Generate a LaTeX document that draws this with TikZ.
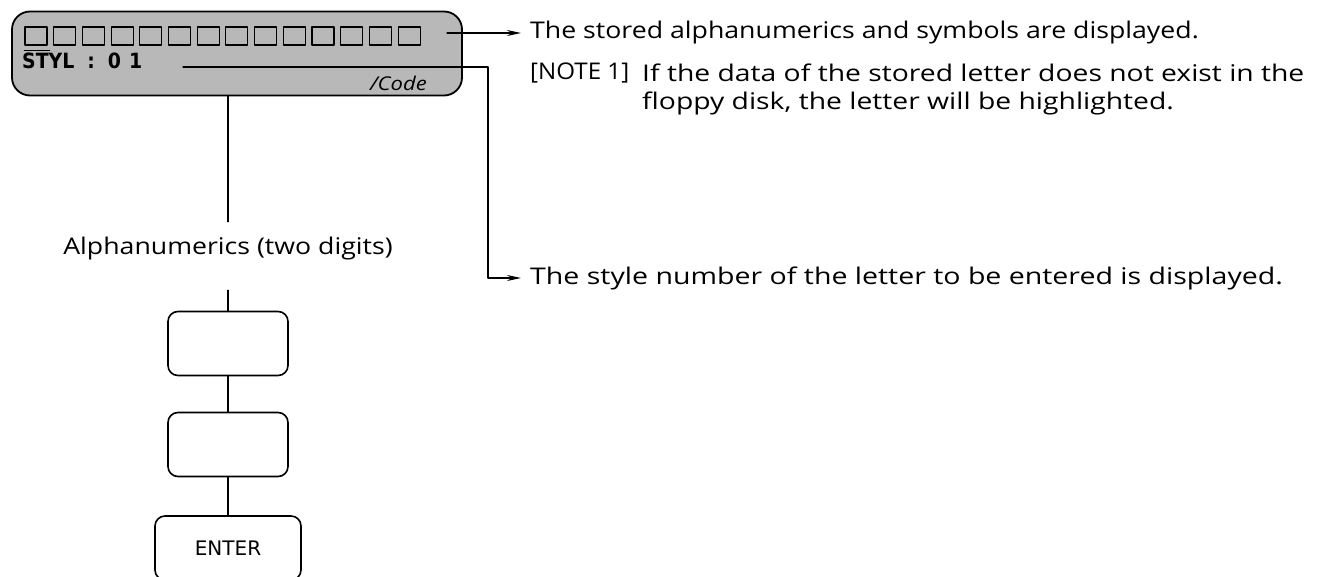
\documentclass[tikz,border=0pt]{standalone}
\usepackage{fontspec}
\usepackage{graphicx}
\setmainfont{Open Sans}
\newfontfamily\lcdfont{DejaVu Sans Condensed}
\newfontfamily\keyfont{DejaVu Sans}
\usetikzlibrary{positioning, arrows.meta}
\newcommand\widetext[2][1.16]{\scalebox{#1}[1]{#2}}
\tikzset{
    keybox/.style={draw, line width=1.6pt, rounded corners=10pt,
        minimum width=120pt, minimum height=64pt, font=\keyfont\fontsize{20}{22}\selectfont},
    note/.style={anchor=west, inner sep=0pt, font=\fontsize{23}{30}\selectfont},
    cell/.style={draw, line width=1.1pt, minimum width=22pt, minimum height=18pt, inner sep=0pt},
    pointer/.style={line width=1.3pt, shorten >=9pt, -{Stealth[length=14pt,width=6pt]}},
}

\begin{document}
\begin{tikzpicture}[x=1pt, y=-1pt, line cap=round, line join=round]
    \useasboundingbox (0,0) rectangle (1323,577);
    % display
    \node[draw, line width=1.8pt, rounded corners=18pt, fill=black!28,
        minimum width=450pt, minimum height=84pt] (lcd) at (237,53.5) {};
    \foreach \i in {0,...,13}
        \node[cell] (c\i) at (36+28.7*\i,36) {};
    \draw[line width=1.6pt] ([yshift=-5pt]c0.south west) -- ++(25,0);
    \node[font=\lcdfont\bfseries\fontsize{21}{22}\selectfont, anchor=west, inner sep=0pt]
        (styl) at (22,61) {STYL\hspace{13pt}:\hspace{13pt}0\hspace{8pt}1};
    \node[font=\itshape\fontsize{19}{20}\selectfont, anchor=east, inner sep=0pt]
        (code) at (427,83) {\widetext{/Code}};
    % notes
    \node[note] (stored) at (530,33) {\widetext{The stored alphanumerics and symbols are displayed.}};
    \node[note] (notehead) at (530,73) {\widetext[1.05]{[NOTE 1]}};
    \node[note] (notebody) at (642,73) {\widetext[1.23]{If the data of the stored letter does not exist in the}};
    \node[note] (notebody2) at (642,103) {\widetext[1.23]{floppy disk, the letter will be highlighted.}};
    \node[note] (stylenum) at (530,278) {\widetext[1.24]{The style number of the letter to be entered is displayed.}};
    % keys
    \node[font=\fontsize{23}{26}\selectfont, minimum height=54pt, inner sep=0pt]
        (alnum) at (228,249) {\widetext{Alphanumerics (two digits)}};
    \node[keybox] (key1) at (228,343.5) {};
    \node[keybox] (key2) at (228,444.5) {};
    \node[keybox, minimum width=146pt] (enter) at (228,548) {ENTER};
    % connectors
    \coordinate (rowend) at (447,33);
    \coordinate (stylline) at (183,67);
    \draw[pointer] (rowend) -- (stored.west);
    \draw[pointer] (stylline) -- ++(305,0) |- (stylenum.west);
    \draw[line width=1.3pt] (lcd.south -| alnum) -- (alnum.north);
    \draw[line width=1.3pt, shorten <=14pt] (alnum.south) -- (key1.north);
    \draw[line width=1.3pt] (key1) -- (key2);
    \draw[line width=1.3pt] (key2) -- (enter);
\end{tikzpicture}
\end{document}
